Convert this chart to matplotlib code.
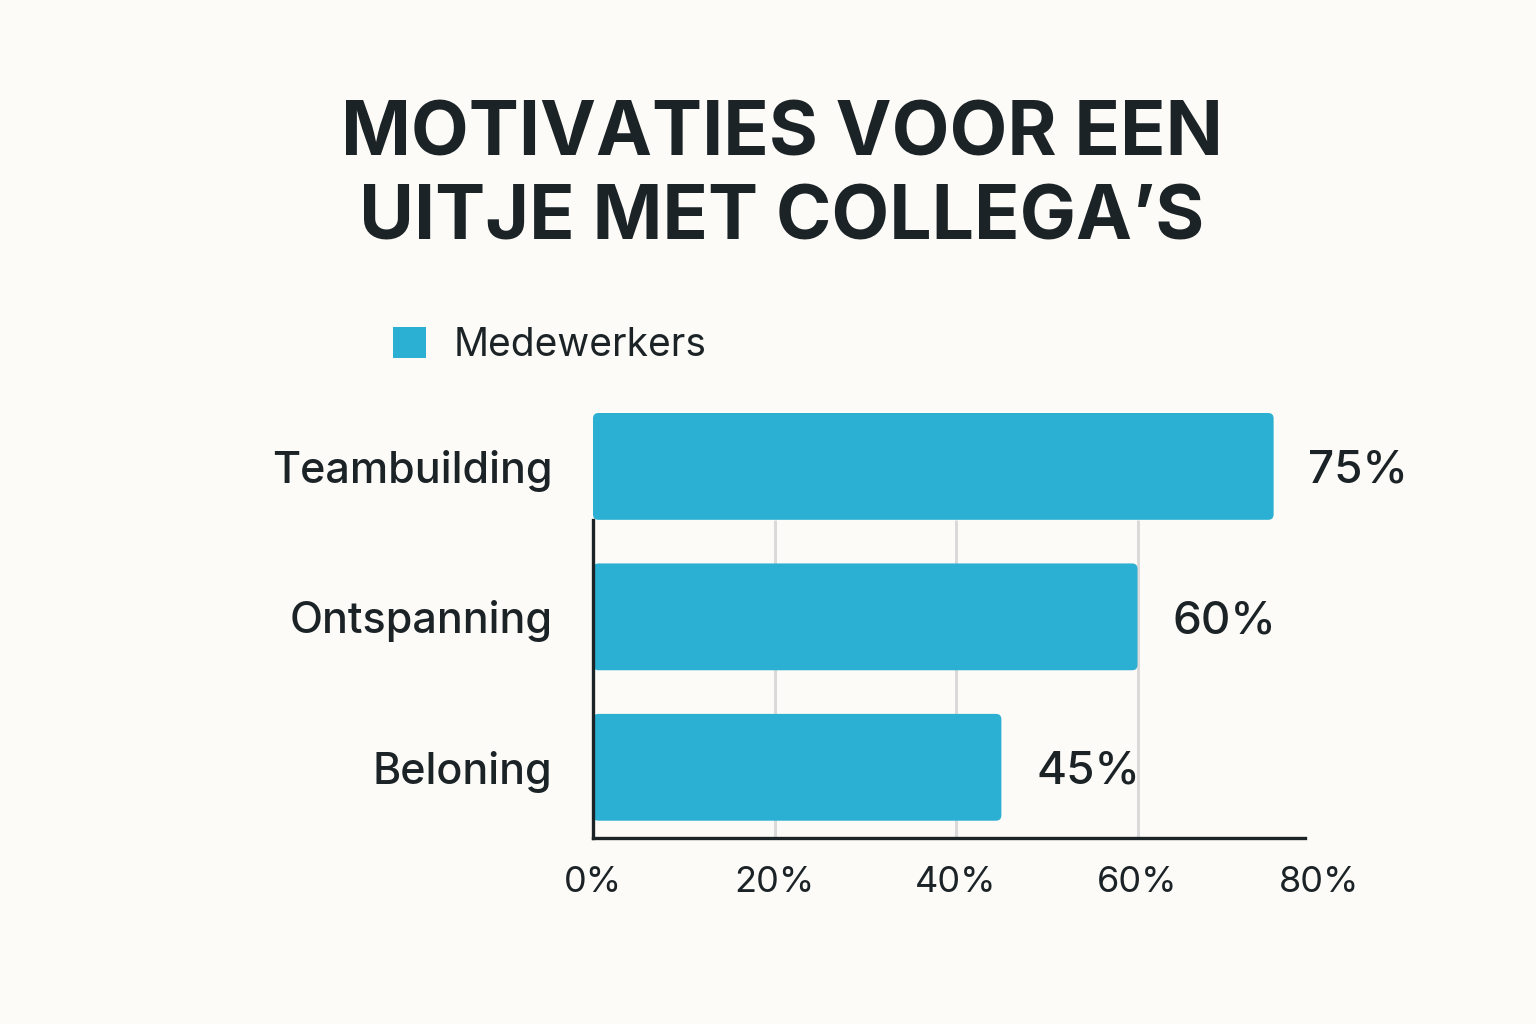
import matplotlib
matplotlib.use("Agg")
import matplotlib.pyplot as plt
from matplotlib.patches import FancyBboxPatch, Patch

# ---- data ----
categories = ["Beloning", "Ontspanning", "Teambuilding"]
values = [45, 60, 75]
value_labels = ["45%", "60%", "75%"]
xticks = [0, 20, 40, 60, 80]
xtick_labels = ["0%", "20%", "40%", "60%", "80%"]
series_name = "Medewerkers"
title = "MOTIVATIES VOOR EEN\nUITJE MET COLLEGA\u2019S"

BG = "#FCFBF7"
BAR = "#2BAFD2"
TXT = "#1C2327"
GRID = "#DADADA"

plt.rcParams["font.family"] = ["Inter", "DejaVu Sans"]

fig = plt.figure(figsize=(15.36, 10.24), dpi=100, facecolor=BG)

bar_h = 0.71
ylo = -0.47
yhi = (len(categories) - 1) + bar_h / 2
ax_bottom_px, ax_top_px = 838, 413
ax = fig.add_axes([593 / 1536, 1 - ax_bottom_px / 1024, 726 / 1536,
                   (ax_bottom_px - ax_top_px) / 1024])
ax.set_facecolor("none")

ax.set_yticks(range(len(categories)))
ax.set_yticklabels(categories, fontsize=31, color=TXT, fontweight="medium")
ax.set_xticks(xticks)
ax.set_xticklabels(xtick_labels, fontsize=26, color=TXT)
ax.set_xlim(0, 80)
ax.set_ylim(ylo, yhi)
ax.tick_params(axis="y", length=0, pad=29)
ax.tick_params(axis="x", length=0, pad=20)

# aspect factor for rounded corners (px per x-unit / px per y-unit)
px_x = 726 / 80
px_y = (ax_bottom_px - ax_top_px) / (yhi - ylo)
aspect = px_x / px_y

for i, v in enumerate(values):
    p = FancyBboxPatch((0, i - bar_h / 2), v, bar_h,
                       boxstyle="round,pad=0,rounding_size=0.6",
                       mutation_aspect=aspect,
                       facecolor=BAR, edgecolor="none", zorder=3)
    ax.add_patch(p)
    ax.annotate(value_labels[i], xy=(v, i), xytext=(25, 0), textcoords="offset points",
                ha="left", va="center_baseline", fontsize=33, color=TXT, zorder=4,
                fontweight="medium")

# grid lines end below the top bar
grid_top = (len(categories) - 1) - bar_h / 2
ax.vlines(xticks[1:-1], ylo, grid_top, colors=GRID, linewidth=2.2, zorder=0)

for s in ["top", "right"]:
    ax.spines[s].set_visible(False)
for s in ["left", "bottom"]:
    ax.spines[s].set_color(TXT)
    ax.spines[s].set_linewidth(2.4)
    ax.spines[s].set_zorder(5)
ax.spines["left"].set_bounds(ylo, grid_top)
ax.spines["bottom"].set_bounds(0, 78.5)

fig.text(782 / 1536, 1 - 178 / 1024, title, ha="center", va="center",
         fontsize=54, fontweight="bold", color=TXT, linespacing=1.22)

leg = fig.legend(handles=[Patch(facecolor=BAR, edgecolor="none", label=series_name)],
                 loc="center left", bbox_to_anchor=(358 / 1536, 1 - 345 / 1024),
                 frameon=False, fontsize=28, handlelength=0.85, handleheight=0.85,
                 handletextpad=0.7, labelcolor=TXT)

fig.savefig("out.png", dpi=100, facecolor=BG)
